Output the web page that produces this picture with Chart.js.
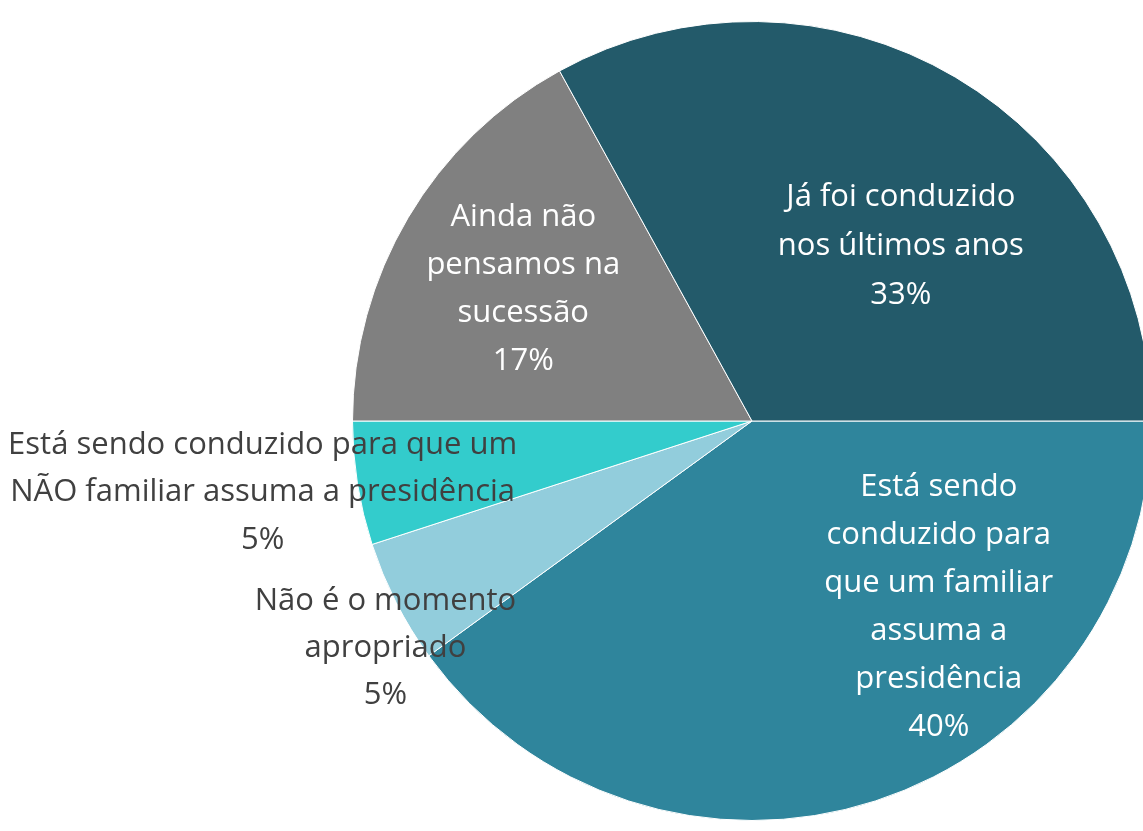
<!DOCTYPE html>
<html>
<head>
<meta charset="utf-8">
<script src="https://cdn.jsdelivr.net/npm/chart.js@4"></script>
<style>
    html, body { margin: 0; padding: 0; background: #fff; overflow: hidden; }
    #wrap { position: relative; width: 1160px; height: 831px; }
</style>
</head>
<body>
<div id="wrap"><canvas id="pieChart"></canvas></div>
<script>
// Slices in clockwise order, starting at 3 o'clock
const categories = [
    ['Está sendo', 'conduzido para', 'que um familiar', 'assuma a', 'presidência'],
    ['Não é o momento', 'apropriado'],
    ['Está sendo conduzido para que um', 'NÃO familiar assuma a presidência'],
    ['Ainda não', 'pensamos na', 'sucessão'],
    ['Já foi conduzido', 'nos últimos anos']
];
const values = [40, 5, 5, 17, 33];
const sliceColors = ['#2f859c', '#92cddc', '#33cccc', '#808080', '#235a6a'];

// label placement, relative to the pie centre in units of the radius
const labelStyle = [
    { dx: 0.4675, dy: 0.465, color: '#ffffff', lh: 48 },
    { dx: -0.9175, dy: 0.5675, color: '#404040', lh: 47 },
    { dx: -1.225, dy: 0.179, color: '#404040', lh: 47.5 },
    { dx: -0.5725, dy: -0.33, color: '#ffffff', lh: 48 },
    { dx: 0.3725, dy: -0.4375, color: '#ffffff', lh: 49 }
];

const sliceLabels = {
    id: 'sliceLabels',
    afterDatasetsDraw(chart) {
        const ctx = chart.ctx;
        const meta = chart.getDatasetMeta(0);
        ctx.save();
        ctx.font = '31px "Open Sans", sans-serif';
        ctx.textAlign = 'center';
        ctx.textBaseline = 'middle';
        meta.data.forEach((arc, i) => {
            const s = labelStyle[i];
            const r = arc.outerRadius;
            const lines = categories[i].concat(values[i] + '%');
            const x = arc.x + s.dx * r;
            const y0 = arc.y + s.dy * r - (lines.length - 1) * s.lh / 2;
            ctx.fillStyle = s.color;
            lines.forEach((t, k) => ctx.fillText(t, x, y0 + k * s.lh));
        });
        ctx.restore();
    }
};

new Chart(document.getElementById('pieChart'), {
    type: 'pie',
    data: {
        labels: categories,
        datasets: [{
            data: values,
            backgroundColor: sliceColors,
            borderColor: '#ffffff',
            borderWidth: 1
        }]
    },
    options: {
        responsive: true,
        maintainAspectRatio: false,
        animation: false,
        rotation: 90,
        layout: { padding: { left: 352, right: 8, top: 21, bottom: 10 } },
        plugins: {
            legend: { display: false },
            tooltip: { enabled: false }
        }
    },
    plugins: [sliceLabels]
});
</script>
</body>
</html>
